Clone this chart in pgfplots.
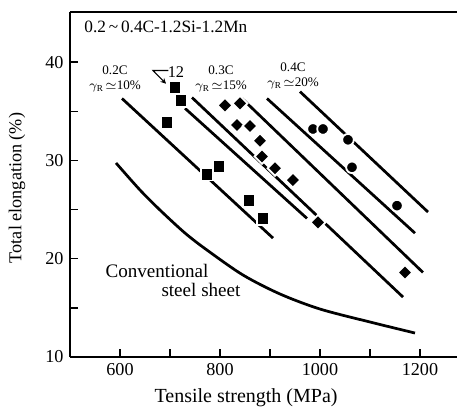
\documentclass[border=0pt]{standalone}
\usepackage{fontspec}
\setmainfont{Liberation Serif}
\usepackage{pgfplots}
\pgfplotsset{compat=1.18}
\usetikzlibrary{calc,arrows.meta}

% 1px of the reference ~ 0.55pt
\begin{document}
\begin{tikzpicture}
\begin{axis}[
  width=212.85pt, height=189.75pt, scale only axis,
  xmin=500, xmax=1274, ymin=10, ymax=45.1,
  axis x line*=box, axis y line*=left,
  xtick pos=left, ytick pos=left,
  xtick={600,700,...,1200}, xticklabels={600,,800,,1000,,1200},
  ytick={10,15,...,40}, yticklabels={10,,20,,30,,40},
  tick align=inside, major tick length=4.4pt,
  tick style={line width=0.8pt, black},
  axis line style={line width=0.8pt},
  /pgf/number format/assume math mode=true,
  ticklabel style={font=\fontsize{10}{12}\selectfont},
  xlabel={Tensile strength (MPa)},
  ylabel={Total elongation (\%)},
  every axis x label/.style={at={(axis description cs:0.455,-0.119)}, anchor=center, font=\fontsize{11}{13}\selectfont},
  every axis y label/.style={at={(axis description cs:-0.137,0.49)}, rotate=90, anchor=center, font=\fontsize{10}{12}\selectfont},
  clip=false,
]
% trend lines
\addplot[black, line width=1.5pt] coordinates {(604,36.3) (906,22.1)};
\addplot[black, line width=1.5pt] coordinates {(730,35.3) (974,24.1)};
\addplot[black, line width=1.5pt] coordinates {(744,36.4) (1166,16.1)};
\addplot[black, line width=1.5pt] coordinates {(844,36.3) (1206,18.6)};
\addplot[black, line width=1.5pt] coordinates {(894,36.3) (1190,22.6)};
\addplot[black, line width=1.5pt] coordinates {(960,37.0) (1216,24.75)};
% conventional steel sheet
\addplot[black, line width=1.5pt, smooth] coordinates {
  (592,29.74) (640,26.99) (680,24.95) (730,22.61) (774,20.88)
  (846,18.34) (920,16.41) (1000,14.88) (1100,13.56) (1190,12.44)};

% 0.2C
\addplot[only marks, mark=square*, mark size=3.5pt,
  mark options={fill=black, draw=white, line width=1pt}] coordinates {
  (694,33.9) (710,37.4) (722,36.1) (774,28.6) (798,29.4) (858,25.9) (886,24.1)};
% 0.3C
\addplot[only marks, mark=square*, mark size=2.9pt,
  mark options={rotate=45, fill=black, draw=white, line width=1pt}] coordinates {
  (810,35.6) (840,35.8) (834,33.6) (860,33.5) (880,32.0) (884,30.4)
  (910,29.2) (946,28.0) (996,23.7) (1170,18.6)};
% 0.4C
\addplot[only marks, mark=*, mark size=3.2pt,
  mark options={fill=black, draw=white, line width=1pt}] coordinates {
  (986,33.2) (1006,33.2) (1056,32.1) (1064,29.3) (1154,25.4)};

\node[anchor=west, font=\fontsize{9.5}{11}\selectfont] at (axis cs:516,43.57) {0.2\,\textasciitilde\,0.4C-1.2Si-1.2Mn};
\node[font=\fontsize{7.2}{8}\selectfont, inner sep=0.5pt] at (axis cs:590,39.15) {0.2C};
\node[font=\fontsize{7.2}{8}\selectfont, inner sep=0.5pt] at (axis cs:590,37.55) {$\gamma_{\mathrm{R}}\!\simeq$10\%};
\node[font=\fontsize{7.2}{8}\selectfont, inner sep=0.5pt] at (axis cs:802,39.15) {0.3C};
\node[font=\fontsize{7.2}{8}\selectfont, inner sep=0.5pt] at (axis cs:802,37.5) {$\gamma_{\mathrm{R}}\!\simeq$15\%};
\node[font=\fontsize{7.2}{8}\selectfont, inner sep=0.5pt] at (axis cs:946,39.45) {0.4C};
\node[font=\fontsize{7.2}{8}\selectfont, inner sep=0.5pt] at (axis cs:946,37.8) {$\gamma_{\mathrm{R}}\!\simeq$20\%};
\node[font=\fontsize{9}{11}\selectfont] at (axis cs:712,38.95) {12};
\draw[line width=0.6pt, -{Stealth[length=3pt,width=3pt]}] (axis cs:697,39.15) -- (axis cs:666,39.15) -- (axis cs:692,37.8);
\node[font=\fontsize{10.5}{12}\selectfont] at (axis cs:674,18.75) {Conventional};
\node[font=\fontsize{10.5}{12}\selectfont] at (axis cs:762,16.8) {steel sheet};
\end{axis}
\pgfresetboundingbox
\path[use as bounding box] ($(current axis.south west)+(-38.5pt,-29.2pt)$) rectangle ($(current axis.north east)+(0,6.6pt)$);
\end{tikzpicture}
\end{document}
